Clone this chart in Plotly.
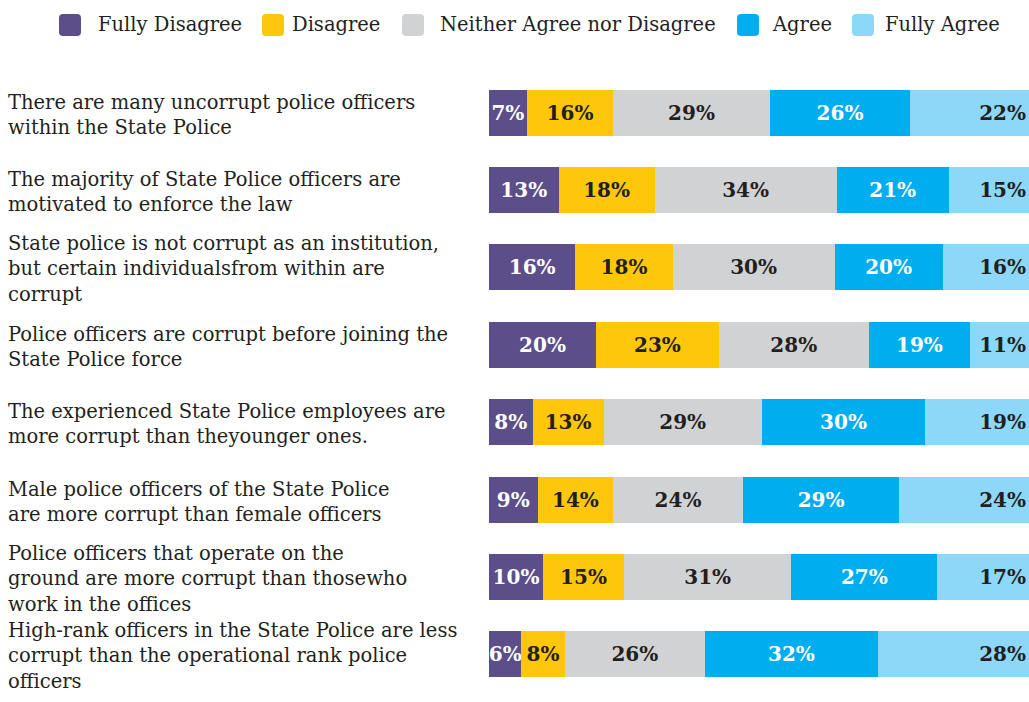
import plotly.graph_objects as go

# Survey statements (top to bottom)
statements = [
    "There are many uncorrupt police officers<br>within the State Police",
    "The majority of State Police officers are<br>motivated to enforce the law",
    "State police is not corrupt as an institution,<br>but certain individualsfrom within are<br>corrupt",
    "Police officers are corrupt before joining the<br>State Police force",
    "The experienced State Police employees are<br>more corrupt than theyounger ones.",
    "Male police officers of the State Police<br>are more corrupt than female officers",
    "Police officers that operate on the<br>ground are more corrupt than thosewho<br>work in the offices",
    "High-rank officers in the State Police are less<br>corrupt than the operational rank police<br>officers",
]

answer_levels = ["Fully Disagree", "Disagree", "Neither Agree nor Disagree", "Agree", "Fully Agree"]

fully_disagree = [7, 13, 16, 20, 8, 9, 10, 6]
disagree = [16, 18, 18, 23, 13, 14, 15, 8]
neither = [29, 34, 30, 28, 29, 24, 31, 26]
agree = [26, 21, 20, 19, 30, 29, 27, 32]
fully_agree = [22, 15, 16, 11, 19, 24, 17, 28]

series = [fully_disagree, disagree, neither, agree, fully_agree]
colors = ["#5b4e89", "#ffc709", "#d1d2d4", "#00aeef", "#8dd8f8"]
text_colors = ["#ffffff", "#231f20", "#231f20", "#ffffff", "#231f20"]
text_anchor = ["middle", "middle", "middle", "middle", "end"]

LABEL_FONT = "DejaVu Serif"
W, H = 1029, 702
M_L, M_R, M_T, M_B = 489, 0, 74, 9
plot_w = W - M_L - M_R
plot_h = H - M_T - M_B

fig = go.Figure()
for name, vals, col, tcol, anch in zip(answer_levels, series, colors, text_colors, text_anchor):
    fig.add_trace(go.Bar(
        y=statements,
        x=vals,
        orientation="h",
        name=name,
        marker=dict(color=col, line=dict(width=0)),
        text=vals,
        texttemplate="%{text}%",
        textposition="inside",
        textangle=0,
        insidetextanchor=anch,
        textfont=dict(family=LABEL_FONT, size=20, color=tcol, weight="bold"),
        showlegend=False,
        hoverinfo="skip",
    ))

# statement labels, left-aligned in the left margin
for s in statements:
    fig.add_annotation(
        x=(6 - M_L) / plot_w, xref="paper", xanchor="left",
        y=s, yref="y", yanchor="middle", yshift=-2,
        text=s, showarrow=False, align="left",
        font=dict(family=LABEL_FONT, size=19.5, color="#231f20"),
    )

# legend row across the top
legend_marker_px = [70, 273, 413, 748, 863]
legend_text_px = [96, 290, 438, 770, 883]
legend_y_px = 25
ly = (H - M_B - legend_y_px) / plot_h
r = 11
c = 4
rounded = (f"M {-r},{-r + c} Q {-r},{-r} {-r + c},{-r} L {r - c},{-r} Q {r},{-r} {r},{-r + c} "
           f"L {r},{r - c} Q {r},{r} {r - c},{r} L {-r + c},{r} Q {-r},{r} {-r},{r - c} Z")
for name, col, mx, tx in zip(answer_levels, colors, legend_marker_px, legend_text_px):
    fig.add_shape(
        type="path", path=rounded,
        xref="paper", yref="paper",
        xsizemode="pixel", ysizemode="pixel",
        xanchor=(mx - M_L) / plot_w, yanchor=ly,
        fillcolor=col, line=dict(width=0),
    )
    fig.add_annotation(
        x=(tx - M_L) / plot_w, xref="paper", xanchor="left",
        y=ly, yref="paper", yanchor="middle",
        text=name, showarrow=False,
        font=dict(family=LABEL_FONT, size=19.5, color="#231f20"),
    )

fig.update_layout(
    barmode="stack",
    barnorm="percent",
    bargap=0.406,
    width=W, height=H,
    margin=dict(l=M_L, r=M_R, t=M_T, b=M_B, pad=0),
    paper_bgcolor="white",
    plot_bgcolor="white",
    uniformtext=dict(minsize=20, mode="show"),
    xaxis=dict(visible=False, range=[0, 100], fixedrange=True),
    yaxis=dict(visible=False, autorange="reversed", fixedrange=True),
    showlegend=False,
)

fig.write_html("out.html")
